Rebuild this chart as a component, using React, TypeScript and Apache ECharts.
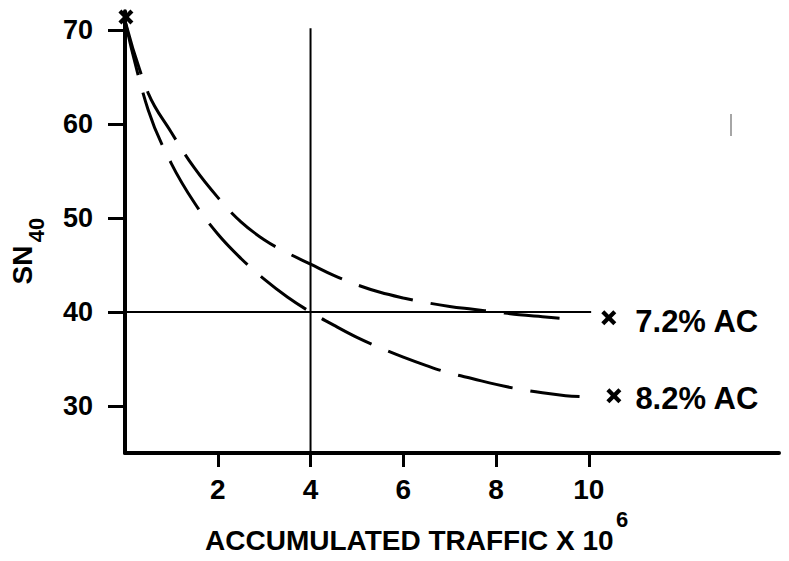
import React, { useEffect, useRef } from "react";
import * as echarts from "echarts";

// ---- data ----
const traffic72 = [0, 0.5, 1, 1.5, 2, 2.5, 3, 3.5, 4, 4.5, 5, 5.5, 6, 6.5, 7, 7.5, 8, 8.5, 9, 9.5, 9.7];
const sn72 = [71, 63.3, 59.1, 55.3, 52.2, 49.6, 47.7, 46.3, 45.1, 43.9, 42.9, 42.1, 41.5, 41.0, 40.6, 40.3, 40.0, 39.7, 39.5, 39.3, 39.25];

const traffic82 = [0, 0.5, 1, 1.5, 2, 2.5, 3, 3.5, 4, 4.5, 5, 5.5, 6, 6.5, 7, 7.5, 8, 8.5, 9, 9.5, 9.8];
const sn82 = [71, 61.5, 55.8, 51.6, 48.3, 45.7, 43.5, 41.6, 40.0, 38.6, 37.3, 36.2, 35.2, 34.3, 33.5, 32.9, 32.3, 31.8, 31.4, 31.1, 31.0];

const xTicks = [2, 4, 6, 8, 10];
const yTicks = [30, 40, 50, 60, 70];

const refVertical = [[4, 25], [4, 70.2]];
const refHorizontal = [[0, 40], [10.05, 40]];

const markerLabels = ["7.2% AC", "8.2% AC"];
const markerX = [10.43, 10.54];
const markerY = [39.4, 31.1];
const topMarker = [0.02, 71.4];

const X_PATH =
  "path://M2,0 L5,3 L8,0 L10,2 L7,5 L10,8 L8,10 L5,7 L2,10 L0,8 L3,5 L0,2 Z";

const FONT = "Liberation Sans, Arial, sans-serif";

export default function App() {
  const ref = useRef<HTMLDivElement>(null);

  useEffect(() => {
    document.body.style.margin = "0";
    if (!ref.current) return;
    const chart = echarts.init(ref.current, undefined, { renderer: "svg" });

    const dashStyle = { color: "#000", width: 3, type: [56, 18] as any, opacity: 1 };

    chart.setOption({
      animation: false,
      backgroundColor: "#fff",
      grid: { left: 125, right: 10, top: 11.3, bottom: 108, containLabel: false },
      xAxis: {
        type: "value",
        min: 0,
        max: 14.1,
        splitLine: { show: false },
        axisLine: { onZero: false, lineStyle: { color: "#000", width: 4 } },
        axisTick: {
          show: true,
          customValues: xTicks,
          length: 14,
          lineStyle: { color: "#000", width: 3 },
        },
        axisLabel: {
          customValues: xTicks,
          margin: 22,
          color: "#000",
          fontSize: 28,
          fontWeight: "bold",
          fontFamily: FONT,
        },
      },
      yAxis: {
        type: "value",
        min: 25,
        max: 72,
        splitLine: { show: false },
        axisLine: { show: true, onZero: false, lineStyle: { color: "#000", width: 4 } },
        axisTick: {
          show: true,
          customValues: yTicks,
          length: 17,
          lineStyle: { color: "#000", width: 3 },
        },
        axisLabel: {
          customValues: yTicks,
          margin: 32,
          color: "#000",
          fontSize: 27,
          fontWeight: "bold",
          fontFamily: FONT,
        },
      },
      series: [
        {
          type: "line",
          name: "7.2% AC",
          data: traffic72.map((x, i) => [x, sn72[i]]),
          smooth: 0.4,
          symbol: "none",
          lineStyle: dashStyle,
        },
        {
          type: "line",
          name: "8.2% AC",
          data: traffic82.map((x, i) => [x, sn82[i]]),
          smooth: 0.4,
          symbol: "none",
          lineStyle: dashStyle,
        },
        {
          type: "line",
          data: refVertical,
          symbol: "none",
          lineStyle: { color: "#000", width: 2 },
        },
        {
          type: "line",
          data: refHorizontal,
          symbol: "none",
          lineStyle: { color: "#000", width: 2 },
        },
        {
          type: "scatter",
          symbol: X_PATH,
          symbolSize: 15,
          itemStyle: { color: "#000", opacity: 1 },
          data: [
            {
              value: [markerX[0], markerY[0]],
              label: {
                show: true,
                formatter: markerLabels[0],
                position: "right",
                distance: 19,
                offset: [0, 4],
              },
            },
            {
              value: [markerX[1], markerY[1]],
              label: {
                show: true,
                formatter: markerLabels[1],
                position: "right",
                distance: 14,
                offset: [0, 3],
              },
            },
            { value: topMarker, label: { show: false } },
          ],
          label: {
            color: "#000",
            fontSize: 31,
            fontWeight: "bold",
            fontFamily: FONT,
          },
        },
      ],
      graphic: [
        {
          type: "text",
          x: 205,
          y: 540,
          style: {
            text: "ACCUMULATED TRAFFIC X 10",
            fill: "#000",
            fontSize: 28,
            fontWeight: "bold",
            fontFamily: FONT,
            textAlign: "left",
            textVerticalAlign: "middle",
          },
        },
        {
          type: "text",
          x: 616,
          y: 519,
          style: {
            text: "6",
            fill: "#000",
            fontSize: 22,
            fontWeight: "bold",
            fontFamily: FONT,
            textAlign: "left",
            textVerticalAlign: "middle",
          },
        },
        {
          type: "text",
          x: 22,
          y: 265,
          rotation: Math.PI / 2,
          style: {
            text: "SN",
            fill: "#000",
            fontSize: 28,
            fontWeight: "bold",
            fontFamily: FONT,
            textAlign: "center",
            textVerticalAlign: "middle",
          },
        },
        {
          type: "text",
          x: 36,
          y: 230,
          rotation: Math.PI / 2,
          style: {
            text: "40",
            fill: "#000",
            fontSize: 22,
            fontWeight: "bold",
            fontFamily: FONT,
            textAlign: "center",
            textVerticalAlign: "middle",
          },
        },
        {
          type: "line",
          shape: { x1: 731, y1: 114, x2: 731, y2: 136 },
          style: { stroke: "#888", lineWidth: 1.5 },
        },
      ],
    });

    return () => chart.dispose();
  }, []);

  return <div ref={ref} style={{ width: 789, height: 561 }} />;
}
